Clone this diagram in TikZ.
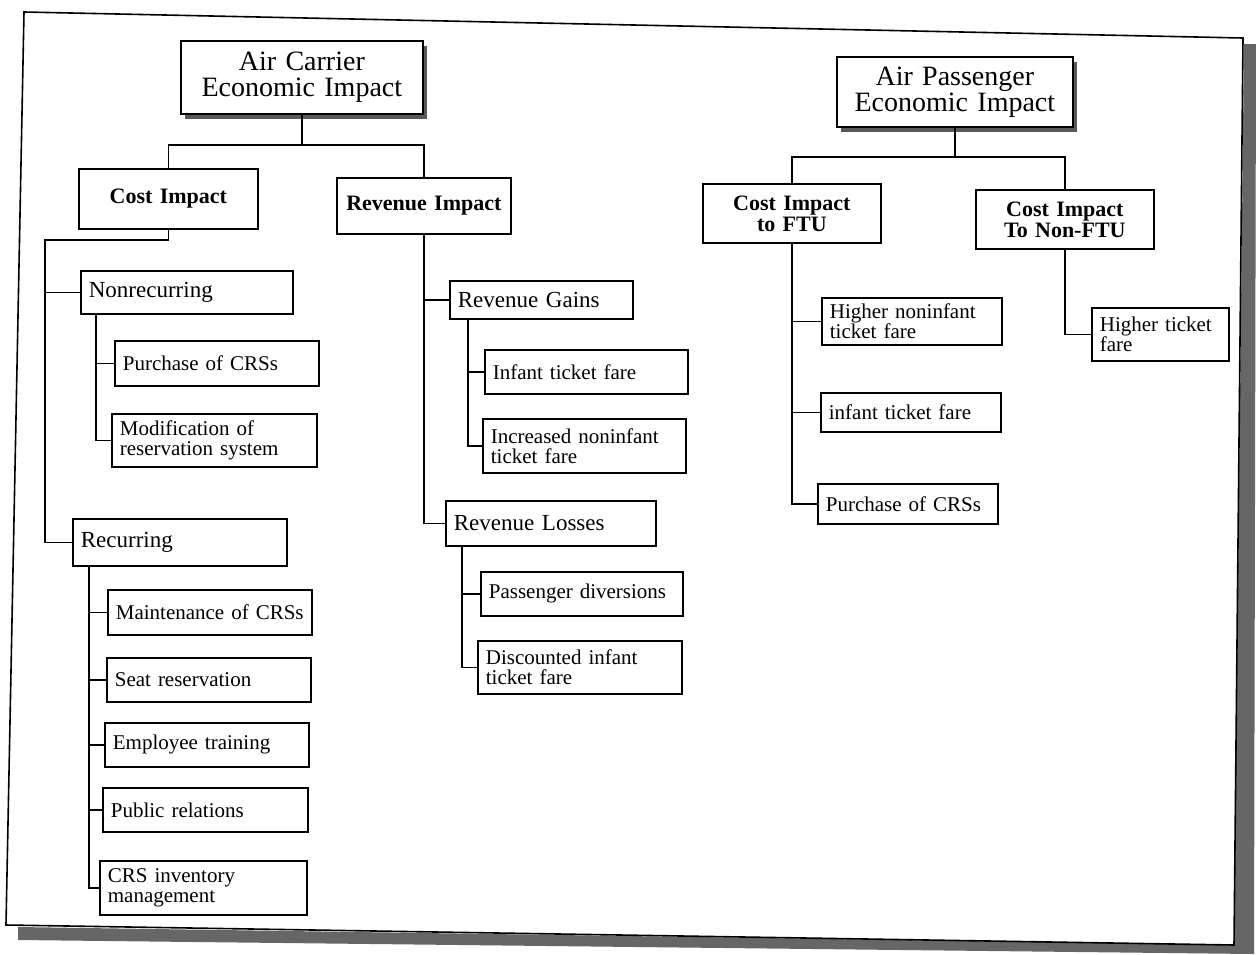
\documentclass[tikz,border=0pt]{standalone}
\usepackage{fontspec}
\setmainfont{Liberation Serif}
\usetikzlibrary{calc,shadows}
\begin{document}
\begin{tikzpicture}[x=1pt,y=-1pt,
  conn/.style={draw=black, line width=1.7pt},
  base/.style={draw=black, line width=1.7pt, fill=white, anchor=north west, inner ysep=0pt},
  leaf/.style={base, inner xsep=8pt, align=left, font=\fontsize{21}{20}\selectfont},
  mid/.style={base, inner xsep=8pt, align=left, font=\fontsize{23}{22}\selectfont},
  sub/.style={base, inner xsep=4pt, align=center, font=\fontsize{22}{21}\selectfont\bfseries},
  head/.style={base, inner xsep=6pt, align=center, font=\fontsize{28}{26}\selectfont,
    drop shadow={shadow xshift=4pt, shadow yshift=-5pt, fill=black!65, opacity=1}},
  frameshadow/.style={fill=black!60},
  frameline/.style={draw=black, line width=1.6pt}
]
\useasboundingbox (0,0) rectangle (1256,954);

% page frame with shadow
\fill[frameshadow] (1244,44) -- (1256,44) -- (1254,954) -- (18,940) -- (18,927) -- (1234,945) -- cycle;
\draw[frameline] (24,12) -- (1243,38) -- (1234,945) -- (6,925) -- cycle;

% headers
\node[head, text width=230pt, minimum height=73pt] (ac) at (180,40) {Air Carrier\\Economic Impact};
\node[head, text width=224pt, minimum height=70pt] (ap) at (836,56) {Air Passenger\\Economic Impact};

% second level
\node[sub, text width=171pt, minimum height=60pt] (ci) at (78,168) {Cost Impact};
\node[sub, text width=166pt, minimum height=56pt] (ri) at (336,177) {Revenue Impact};
\node[sub, text width=170pt, minimum height=59pt] (ftu) at (702,183) {Cost Impact\\to FTU};
\node[sub, text width=170pt, minimum height=59pt] (nftu) at (975,189) {Cost Impact\\To Non-FTU};

% third level
\node[mid, text width=196pt, minimum height=43pt] (nonrec) at (80,270) {Nonrecurring};
\node[mid, text width=198pt, minimum height=47pt] (rec) at (72,518) {Recurring};
\node[mid, text width=167pt, minimum height=38pt] (rg) at (449,280) {Revenue Gains};
\node[mid, text width=194pt, minimum height=45pt] (rl) at (445,500) {Revenue Losses};

% leaves
\node[leaf, text width=188pt, minimum height=45pt] (pcrs1) at (114,340) {Purchase of CRSs};
\node[leaf, text width=189pt, minimum height=53pt] (mod) at (111,413) {Modification of\\reservation system};
\node[leaf, text width=188pt, minimum height=45pt] (maint) at (107,589) {Maintenance of CRSs};
\node[leaf, text width=188pt, minimum height=44pt] (seat) at (106,657) {Seat reservation};
\node[leaf, text width=188pt, minimum height=44pt] (emp) at (104,722) {Employee training};
\node[leaf, text width=189pt, minimum height=44pt] (pub) at (102,787) {Public relations};
\node[leaf, text width=191pt, minimum height=54pt] (crsinv) at (99,860) {CRS inventory\\management};
\node[leaf, text width=187pt, minimum height=44pt] (inf) at (484,349) {Infant ticket fare};
\node[leaf, text width=187pt, minimum height=54pt] (incr) at (482,418) {Increased noninfant\\ticket fare};
\node[leaf, text width=186pt, minimum height=44pt] (pdiv) at (480,571) {Passenger diversions};
\node[leaf, text width=188pt, minimum height=53pt] (disc) at (477,640) {Discounted infant\\ticket fare};
\node[leaf, text width=164pt, minimum height=47pt] (hnf) at (821,297) {Higher noninfant\\ticket fare};
\node[leaf, text width=164pt, minimum height=39pt] (itf) at (820,392) {infant ticket fare};
\node[leaf, text width=164pt, minimum height=40pt] (pcrs2) at (817,483) {Purchase of CRSs};
\node[leaf, text width=121pt, minimum height=53pt] (htf) at (1091,307) {Higher ticket\\fare};

% connectors
\draw[conn] (ac.south) -- ++(0,30) coordinate (acj) -| (ci.north);
\draw[conn] (acj) -| (ri.north);
\draw[conn] (ap.south) -- ++(0,29) coordinate (apj) -| (ftu.north);
\draw[conn] (apj) -| (nftu.north);

\coordinate (ctr) at (45,240);
\draw[conn] (ci.south) |- (ctr) |- (rec.west);
\draw[conn] (ctr) |- (nonrec.west);

\coordinate (nrt) at ($(nonrec.south west)+(16,0)$);
\foreach \c in {pcrs1,mod} \draw[conn] (nrt) |- (\c.west);
\coordinate (rct) at ($(rec.south west)+(17,0)$);
\foreach \c in {maint,seat,emp,pub,crsinv} \draw[conn] (rct) |- (\c.west);

\draw[conn] (ri.south) |- (rg.west);
\draw[conn] (ri.south) |- (rl.west);
\coordinate (rgt) at ($(rg.south west)+(19,0)$);
\foreach \c in {inf,incr} \draw[conn] (rgt) |- (\c.west);
\coordinate (rlt) at ($(rl.south west)+(17,0)$);
\foreach \c in {pdiv,disc} \draw[conn] (rlt) |- (\c.west);

\foreach \c in {hnf,itf,pcrs2} \draw[conn] (ftu.south) |- (\c.west);
\draw[conn] (nftu.south) |- (htf.west);
\end{tikzpicture}
\end{document}
